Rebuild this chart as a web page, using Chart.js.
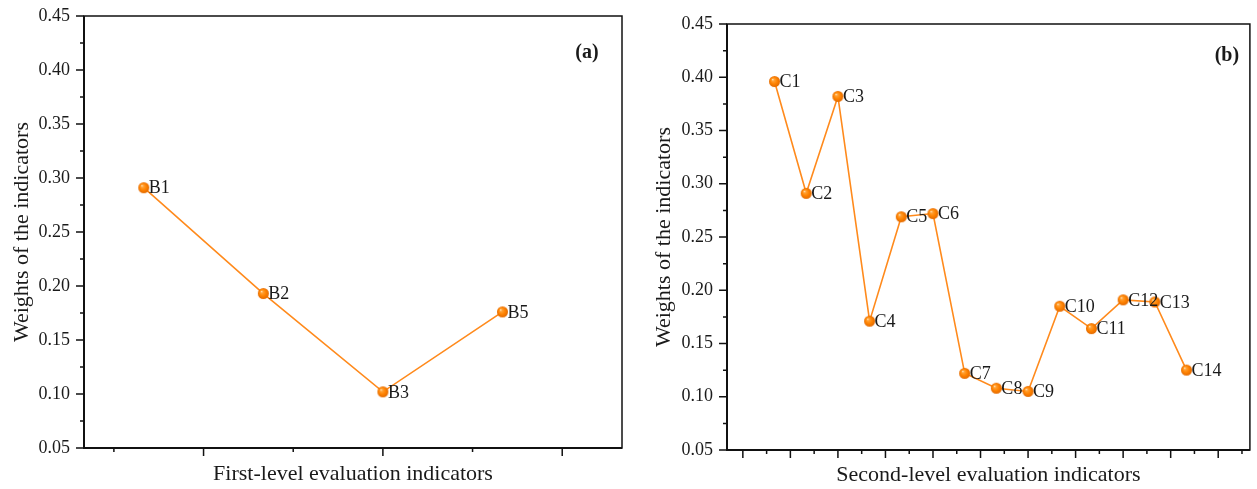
<!DOCTYPE html>
<html>
<head>
<meta charset="utf-8">
<script src="https://cdn.jsdelivr.net/npm/chart.js@4.4.1/dist/chart.umd.min.js"></script>
<style>
    body { margin: 0; background: #fff; }
    .panel { position: absolute; top: 0; }
    #panel-a { left: 0; }
    #panel-b { left: 640px; }
</style>
</head>
<body>
<div class="panel" id="panel-a"><canvas id="chart-a" width="640" height="489"></canvas></div>
<div class="panel" id="panel-b"><canvas id="chart-b" width="617" height="489"></canvas></div>
<script>
// ===================================
// DATA
// ===================================
const firstLevelLabels = ['B1', 'B2', 'B3', 'B5'];
const firstLevelWeights = [0.291, 0.193, 0.102, 0.176];

const secondLevelLabels = ['C1', 'C2', 'C3', 'C4', 'C5', 'C6', 'C7', 'C8', 'C9', 'C10', 'C11', 'C12', 'C13', 'C14'];
const secondLevelWeights = [0.396, 0.291, 0.382, 0.171, 0.269, 0.272, 0.122, 0.108, 0.105, 0.185, 0.164, 0.191, 0.189, 0.125];

const yTickValues = [0.05, 0.10, 0.15, 0.20, 0.25, 0.30, 0.35, 0.40, 0.45];

const FONT = "'Liberation Serif', 'Times New Roman', serif";
const TEXT = '#1a1a1a';
const LINE = '#ff8a1c';

// orange glossy ball used as point style
function makeSphere(r) {
    const c = document.createElement('canvas');
    c.width = c.height = r * 2 + 2;
    const g = c.getContext('2d');
    const cx = r + 1, cy = r + 1;
    const grad = g.createRadialGradient(cx - r * 0.35, cy - r * 0.4, 0.2, cx, cy, r);
    grad.addColorStop(0, '#ffe6c0');
    grad.addColorStop(0.2, '#ffa236');
    grad.addColorStop(0.6, '#ff8200');
    grad.addColorStop(1, '#e26a00');
    g.fillStyle = grad;
    g.beginPath();
    g.arc(cx, cy, r, 0, Math.PI * 2);
    g.fill();
    return c;
}
const sphere = makeSphere(5.5);

// frame, outward tick marks, point labels and panel tag
const decorPlugin = {
    id: 'decor',
    afterDatasetsDraw(chart, args, opts) {
        const { ctx, chartArea: a, scales } = chart;
        const xs = scales.x, ys = scales.y;
        ctx.save();
        ctx.strokeStyle = '#111';

        // ticks on y
        ctx.lineWidth = 1.5;
        ctx.beginPath();
        yTickValues.forEach((v, i) => {
            const y = ys.getPixelForValue(v);
            ctx.moveTo(a.left - 8, y); ctx.lineTo(a.left, y);
            if (i < yTickValues.length - 1) {
                const ym = ys.getPixelForValue(v + 0.025);
                ctx.moveTo(a.left - 4, ym); ctx.lineTo(a.left, ym);
            }
        });
        // ticks on x: major every 1.5, minor halfway
        for (let k = Math.ceil(xs.min / 0.75); k * 0.75 <= xs.max; k++) {
            const x = xs.getPixelForValue(k * 0.75);
            const len = k % 2 === 0 ? 8 : 4;
            ctx.moveTo(x, a.bottom); ctx.lineTo(x, a.bottom + len);
        }
        ctx.stroke();

        // box
        ctx.lineWidth = 1.5;
        ctx.strokeRect(a.left, a.top, a.right - a.left, a.bottom - a.top);
        ctx.lineWidth = 2;
        ctx.beginPath();
        ctx.moveTo(a.left, a.top); ctx.lineTo(a.left, a.bottom); ctx.lineTo(a.right, a.bottom);
        ctx.stroke();

        // point labels
        const meta = chart.getDatasetMeta(0);
        ctx.fillStyle = TEXT;
        ctx.font = '18px ' + FONT;
        ctx.textAlign = 'left';
        ctx.textBaseline = 'middle';
        meta.data.forEach((pt, i) => {
            ctx.fillText(opts.labels[i], pt.x + 5, pt.y + 1);
        });

        // panel tag
        ctx.font = 'bold 20px ' + FONT;
        ctx.textAlign = 'center';
        ctx.fillText(opts.tag, a.right - opts.tagDx, a.top + opts.tagDy);
        ctx.restore();
    }
};

function buildChart(id, cfg) {
    const ctx = document.getElementById(id).getContext('2d');
    return new Chart(ctx, {
        type: 'line',
        data: {
            datasets: [{
                data: cfg.values.map((v, i) => ({ x: i + 1, y: v })),
                borderColor: LINE,
                borderWidth: 1.6,
                pointStyle: sphere,
                pointRadius: 5.5,
                pointHoverRadius: 5.5,
                tension: 0,
                clip: false
            }]
        },
        options: {
            responsive: false,
            animation: false,
            events: [],
            layout: { padding: cfg.padding },
            plugins: {
                legend: { display: false },
                tooltip: { enabled: false },
                decor: { labels: cfg.labels, tag: cfg.tag, tagDx: cfg.tagDx, tagDy: cfg.tagDy }
            },
            scales: {
                x: {
                    type: 'linear',
                    min: cfg.xMin,
                    max: cfg.xMax,
                    grid: { display: false },
                    border: { display: false },
                    ticks: { display: false },
                    title: {
                        display: true,
                        text: cfg.xTitle,
                        color: TEXT,
                        font: { family: FONT, size: 22 },
                        padding: { top: 0, bottom: cfg.xTitlePad }
                    },
                    afterFit(scale) { scale.height = cfg.xHeight; }
                },
                y: {
                    min: 0.05,
                    max: 0.45,
                    grid: { display: false, tickLength: 9 },
                    border: { display: false },
                    afterBuildTicks(scale) { scale.ticks = yTickValues.map(v => ({ value: v })); },
                    ticks: {
                        padding: 5,
                        color: TEXT,
                        font: { family: FONT, size: 18 },
                        callback: v => v.toFixed(2)
                    },
                    title: {
                        display: true,
                        text: 'Weights of the indicators',
                        color: TEXT,
                        font: { family: FONT, size: 22 },
                        padding: { top: cfg.yTitlePad, bottom: 0 }
                    },
                    afterFit(scale) { scale.width = cfg.yWidth; }
                }
            }
        },
        plugins: [decorPlugin]
    });
}

buildChart('chart-a', {
    values: firstLevelWeights,
    labels: firstLevelLabels,
    xMin: 0.5, xMax: 5,
    xTitle: 'First-level evaluation indicators',
    tag: '(a)', tagDx: 35, tagDy: 37,
    padding: { left: 0, top: 16, right: 18, bottom: 0 },
    yWidth: 84, xHeight: 41, yTitlePad: 9, xTitlePad: 2
});

buildChart('chart-b', {
    values: secondLevelWeights,
    labels: secondLevelLabels,
    xMin: -0.5, xMax: 16,
    xTitle: 'Second-level evaluation indicators',
    tag: '(b)', tagDx: 23, tagDy: 32,
    padding: { left: 0, top: 24, right: 1, bottom: 0 },
    yWidth: 87, xHeight: 39, yTitlePad: 11, xTitlePad: 1
});
</script>
</body>
</html>
